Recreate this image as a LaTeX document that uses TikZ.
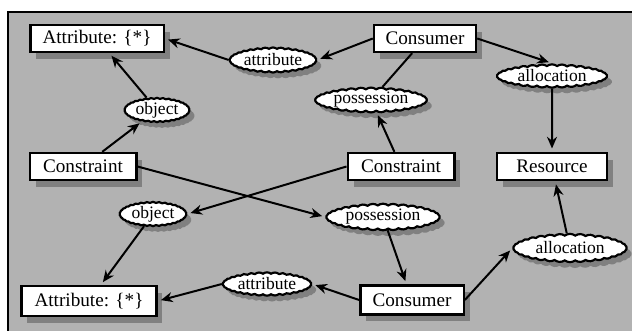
\documentclass[tikz,border=0pt]{standalone}
\usepackage{fontspec}
\setmainfont{Liberation Serif}
\usepackage{tikz}
\usetikzlibrary{arrows.meta,shapes.symbols,shadows}
\definecolor{panel}{RGB}{178,178,178}
\definecolor{shade}{RGB}{128,128,128}
\tikzset{
  box/.style={draw,line width=1.4pt,fill=white,inner xsep=7pt,minimum height=16.2pt,
    font=\fontsize{11.5}{13}\selectfont,
    drop shadow={shadow xshift=3.5pt,shadow yshift=-4pt,fill=shade,opacity=1}},
  role/.style={cloud,cloud puffs=34,cloud puff arc=75,cloud ignores aspect,draw,line width=1.3pt,
    fill=white,inner sep=0pt,font=\fontsize{10.5}{12}\selectfont,
    drop shadow={shadow xshift=3pt,shadow yshift=-3.5pt,fill=shade,opacity=1}},
  link/.style={line width=1.2pt,shorten >=2pt,-{Stealth[length=7pt,width=6pt]}},
  plain/.style={line width=1.2pt}
}
\begin{document}
\begin{tikzpicture}[x=0.6pt,y=-0.6pt]
\useasboundingbox (0,0) rectangle (632,331);
\fill[panel] (8,12) rectangle (632,331);
\draw[line width=1.5pt] (8,331) -- (8,12) -- (632,12);
% entities
\node[box,minimum width=80pt] (attrT) at (97,38.5) {Attribute: \{*\}};
\node[box,minimum width=61pt] (consT) at (425,38.5) {Consumer};
\node[box,minimum width=64pt] (constrL) at (83,166.5) {Constraint};
\node[box,minimum width=64pt] (constrM) at (401,166.5) {Constraint};
\node[box,minimum width=66pt] (res) at (552,166.5) {Resource};
\node[box,minimum width=81pt,minimum height=18pt] (attrB) at (89,301) {Attribute: \{*\}};
\node[box,minimum width=62pt,minimum height=17.5pt] (consB) at (412,300) {Consumer};
% roles
\node[role,minimum width=52pt,minimum height=15pt] (attribT) at (273,60) {attribute};
\node[role,minimum width=39pt,minimum height=14.5pt] (objT) at (157,110) {object};
\node[role,minimum width=67pt,minimum height=13pt] (possT) at (371,100) {possession};
\node[role,minimum width=66pt,minimum height=14pt] (allocT) at (552,76) {allocation};
\node[role,minimum width=40pt,minimum height=14pt] (objB) at (153,214) {object};
\node[role,minimum width=68pt,minimum height=16pt] (possB) at (383,217) {possession};
\node[role,minimum width=68pt,minimum height=17pt] (allocB) at (570,248) {allocation};
\node[role,minimum width=53pt,minimum height=14pt] (attribB) at (267,284) {attribute};
% top half
\draw[link] (consT.west) -- (attribT.east);
\draw[link] (attribT.west) -- (attrT.east);
\draw[link] (constrL) -- (objT);
\draw[link] (objT) -- (attrT);
\draw[link] (constrM) -- (possT);
\draw[plain] (possT) -- (consT);
\draw[link] (consT.east) -- (allocT.north);
\draw[link] (allocT) -- (res);
% bottom half
\draw[link] (constrL.east) -- (possB.west);
\draw[link] (possB) -- (consB);
\draw[link] (constrM.west) -- (objB.east);
\draw[link] (objB) -- (attrB);
\draw[link] (consB.west) -- (attribB.east);
\draw[link] (attribB.west) -- (attrB.east);
\draw[link] (consB.east) -- (allocB.west);
\draw[link] (allocB) -- (res);
\end{tikzpicture}
\end{document}
